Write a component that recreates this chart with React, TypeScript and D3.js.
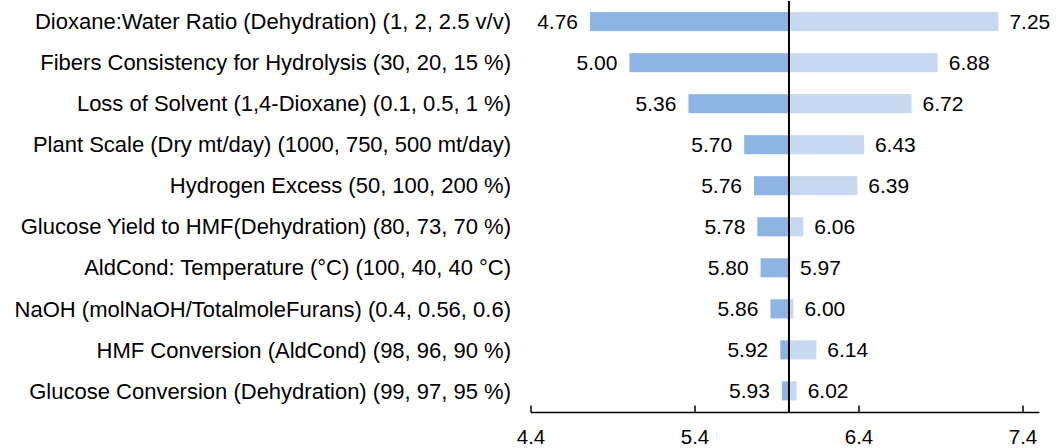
import React from "react";
import * as d3 from "d3";

const categories = [
  "Dioxane:Water Ratio (Dehydration) (1, 2, 2.5 v/v)",
  "Fibers Consistency for Hydrolysis (30, 20, 15 %)",
  "Loss of Solvent (1,4-Dioxane) (0.1, 0.5, 1 %)",
  "Plant Scale (Dry mt/day) (1000, 750, 500 mt/day)",
  "Hydrogen Excess (50, 100, 200 %)",
  "Glucose Yield to HMF(Dehydration) (80, 73, 70 %)",
  "AldCond: Temperature (°C) (100, 40, 40 °C)",
  "NaOH (molNaOH/TotalmoleFurans) (0.4, 0.56, 0.6)",
  "HMF Conversion (AldCond) (98, 96, 90 %)",
  "Glucose Conversion (Dehydration) (99, 97, 95 %)",
];
const lowValues = [4.76, 5.0, 5.36, 5.7, 5.76, 5.78, 5.8, 5.86, 5.92, 5.93];
const highValues = [7.25, 6.88, 6.72, 6.43, 6.39, 6.06, 5.97, 6.0, 6.14, 6.02];
const baseline = 5.973;
const tickValues = [4.4, 5.4, 6.4, 7.4];
const domain = [4.4, 7.5];

const W = 1061;
const H = 448;
const FONT = "'Liberation Sans', Arial, sans-serif";
const LEFT_COLOR = "#8EB4E3";
const RIGHT_COLOR = "#C6D9F1";

export default function App() {
  const x = d3.scaleLinear().domain(domain).range([531, 1039.4]);
  const y = d3
    .scaleBand<string>()
    .domain(categories)
    .range([1, 411.5])
    .paddingInner(0.535)
    .paddingOuter(0.27);
  const bh = y.bandwidth();
  const bx = x(baseline);
  const axisY = 412.5;

  return (
    <svg
      width={W}
      height={H}
      style={{ position: "absolute", left: 0, top: 0, background: "#fff" }}
      fontFamily={FONT}
    >
      {categories.map((c, i) => {
        const yc = (y(c) as number) + bh / 2;
        const lo = lowValues[i];
        const hi = highValues[i];
        return (
          <g key={c}>
            <text x={511} y={yc} dy="0.35em" textAnchor="end" fontSize={22} fill="#000">
              {c}
            </text>
            <rect
              x={x(Math.min(lo, baseline))}
              y={y(c)}
              width={Math.abs(x(baseline) - x(lo))}
              height={bh}
              fill={LEFT_COLOR}
            />
            <rect
              x={x(Math.min(hi, baseline))}
              y={y(c)}
              width={Math.abs(x(hi) - x(baseline))}
              height={bh}
              fill={RIGHT_COLOR}
            />
            <text
              x={x(Math.min(lo, baseline)) - 12}
              y={yc}
              dy="0.35em"
              textAnchor="end"
              fontSize={21}
              fill="#000"
            >
              {lo.toFixed(2)}
            </text>
            <text
              x={x(Math.max(hi, baseline)) + 11}
              y={yc}
              dy="0.35em"
              textAnchor="start"
              fontSize={21}
              fill="#000"
            >
              {hi.toFixed(2)}
            </text>
          </g>
        );
      })}
      <line x1={bx} x2={bx} y1={1} y2={axisY} stroke="#000" strokeWidth={2} />
      <line x1={x(domain[0])} x2={x(domain[1])} y1={axisY} y2={axisY} stroke="#000" strokeWidth={1.5} />
      {tickValues.map((t) => (
        <g key={t}>
          <line x1={x(t)} x2={x(t)} y1={axisY - 7} y2={axisY} stroke="#000" strokeWidth={1.5} />
          <text x={x(t)} y={444} textAnchor="middle" fontSize={20.5} fill="#000">
            {t.toFixed(1)}
          </text>
        </g>
      ))}
    </svg>
  );
}
